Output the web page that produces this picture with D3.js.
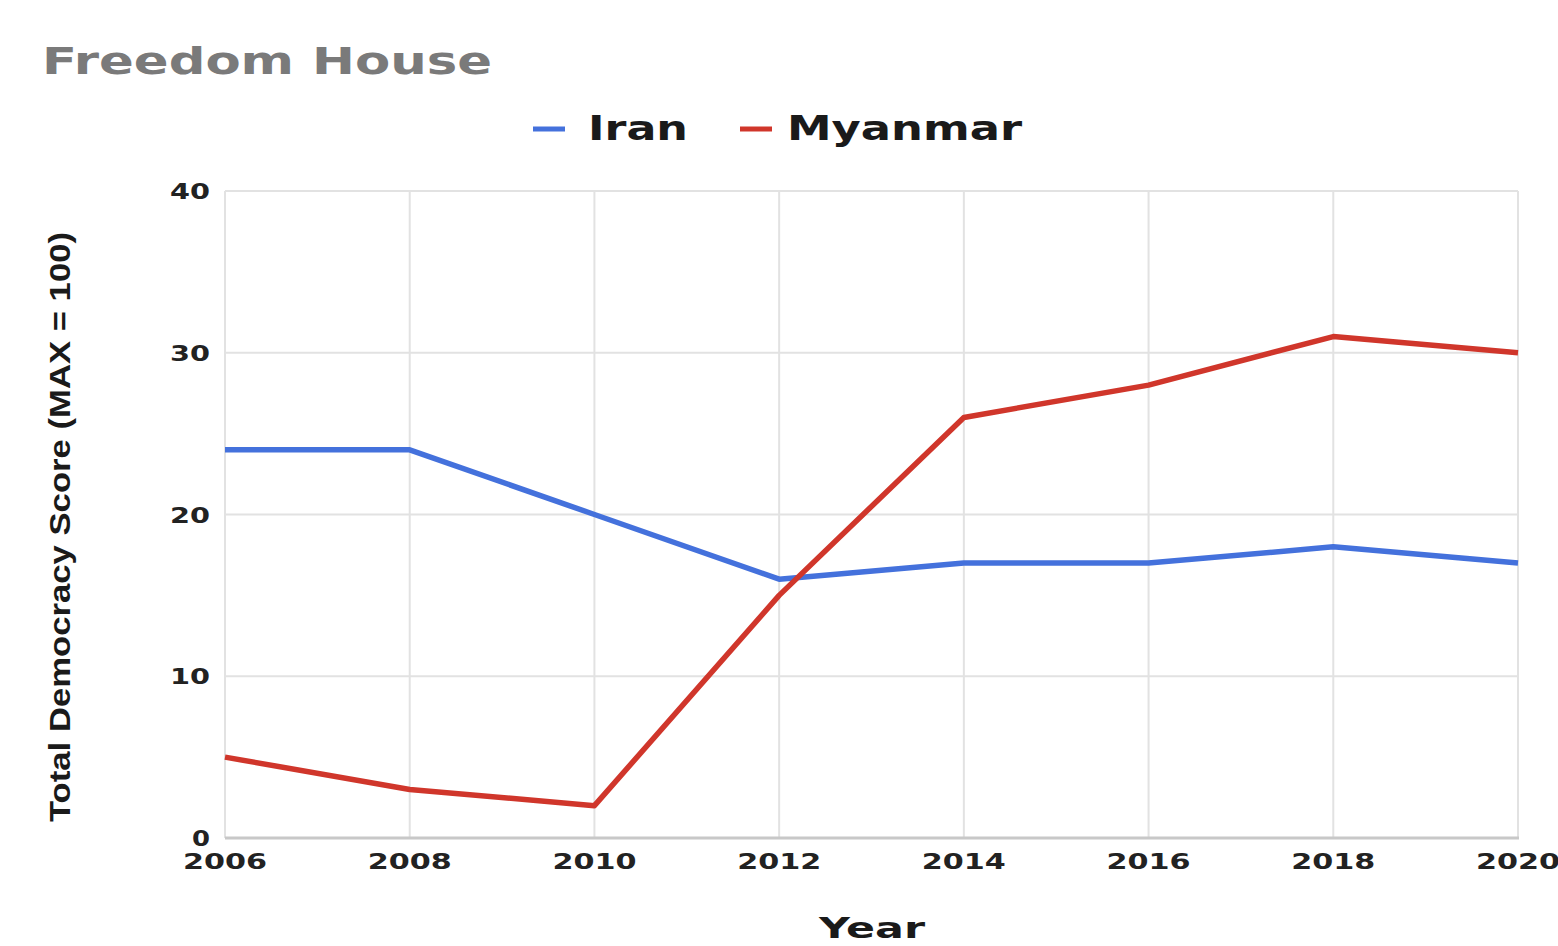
<!DOCTYPE html>
<html lang="en">
<head>
    <meta charset="UTF-8">
    <title>Freedom House</title>
    <script src="https://d3js.org/d3.v7.min.js"></script>
    <style>
        body { margin: 0; background: #fff; }
        text { font-family: "DejaVu Sans", sans-serif; font-weight: bold; }
    </style>
</head>
<body>
    <svg width="1558" height="946"></svg>
    <script>
        var years = [2006, 2008, 2010, 2012, 2014, 2016, 2018, 2020];
        var iran = [24, 24, 20, 16, 17, 17, 18, 17];
        var myanmar = [5, 3, 2, 15, 26, 28, 31, 30];
        var yTicks = [0, 10, 20, 30, 40];
        var seriesNames = ["Iran", "Myanmar"];
        var colors = ["#4471dc", "#d0362b"];

        var svg = d3.select("svg");
        var plotLeft = 225, plotRight = 1518, plotTop = 191, plotBottom = 838;

        var x = d3.scaleLinear().domain([2006, 2020]).range([plotLeft, plotRight]);
        var y = d3.scaleLinear().domain([0, 40]).range([plotBottom, plotTop]);

        // grid
        svg.selectAll(".hgrid").data(yTicks.slice(1))
            .enter().append("line")
            .attr("x1", plotLeft).attr("x2", plotRight)
            .attr("y1", d => y(d)).attr("y2", d => y(d))
            .style("stroke", "#e2e2e2").style("stroke-width", 2);
        svg.selectAll(".vgrid").data(years)
            .enter().append("line")
            .attr("x1", d => x(d)).attr("x2", d => x(d))
            .attr("y1", plotTop).attr("y2", plotBottom)
            .style("stroke", "#e2e2e2").style("stroke-width", 2);
        svg.append("line")
            .attr("x1", plotLeft).attr("x2", plotRight + 1)
            .attr("y1", plotBottom).attr("y2", plotBottom)
            .style("stroke", "#c8c8c8").style("stroke-width", 3);

        // y tick labels
        svg.selectAll(".ylab").data(yTicks)
            .enter().append("text")
            .attr("x", 210).attr("y", d => y(d) + 8)
            .attr("text-anchor", "end")
            .style("font-size", "22px").style("fill", "#222")
            .attr("textLength", d => d === 0 ? 18 : 40)
            .attr("lengthAdjust", "spacingAndGlyphs")
            .text(d => d);

        // x tick labels
        svg.selectAll(".xlab").data(years)
            .enter().append("text")
            .attr("x", d => x(d)).attr("y", 869)
            .attr("text-anchor", "middle")
            .style("font-size", "22px").style("fill", "#222")
            .attr("textLength", 84)
            .attr("lengthAdjust", "spacingAndGlyphs")
            .text(d => d);

        // lines
        var line = d3.line().x((d, i) => x(years[i])).y(d => y(d));
        [iran, myanmar].forEach(function(s, k) {
            svg.append("path")
                .datum(s)
                .attr("d", line)
                .style("fill", "none")
                .style("stroke", colors[k])
                .style("stroke-width", 5.5)
                .style("stroke-linejoin", "round");
        });

        // title
        svg.append("text")
            .attr("x", 42).attr("y", 74)
            .style("font-size", "38px").style("fill", "#7a7a7a")
            .attr("textLength", 450).attr("lengthAdjust", "spacingAndGlyphs")
            .text("Freedom House");

        // legend
        var legendX = [533, 740], textX = [588, 787], textW = [100, 235];
        seriesNames.forEach(function(n, k) {
            svg.append("line")
                .attr("x1", legendX[k]).attr("x2", legendX[k] + 32)
                .attr("y1", 129).attr("y2", 129)
                .style("stroke", colors[k]).style("stroke-width", 5);
            svg.append("text")
                .attr("x", textX[k]).attr("y", 140)
                .style("font-size", "33px").style("fill", "#1a1a1a")
                .attr("textLength", textW[k]).attr("lengthAdjust", "spacingAndGlyphs")
                .text(n);
        });

        // axis titles
        svg.append("text")
            .attr("x", 872).attr("y", 938)
            .attr("text-anchor", "middle")
            .style("font-size", "29px").style("fill", "#1a1a1a")
            .attr("textLength", 106).attr("lengthAdjust", "spacingAndGlyphs")
            .text("Year");
        svg.append("text")
            .attr("transform", "translate(70,527) rotate(-90)")
            .attr("text-anchor", "middle")
            .style("font-family", "'Liberation Sans', Arial, sans-serif")
            .style("font-size", "30px").style("fill", "#1a1a1a")
            .attr("textLength", 590).attr("lengthAdjust", "spacingAndGlyphs")
            .text("Total Democracy Score (MAX = 100)");
    </script>
</body>
</html>
